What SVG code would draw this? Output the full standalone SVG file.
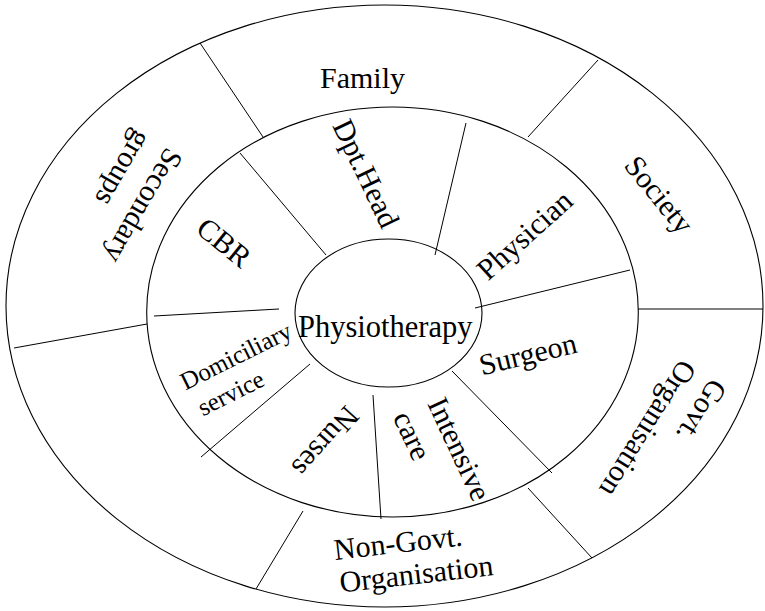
<svg xmlns="http://www.w3.org/2000/svg" width="765" height="611" viewBox="0 0 765 611">
<style>
  .ring { fill: none; stroke: #000; stroke-width: 1.1; }
  .div { stroke: #000; stroke-width: 1; fill: none; }
  .lbl { font-family: "Liberation Serif", "Times New Roman", serif; font-size: 30px; fill: #000; }
  .sm { font-size: 25px; }
</style>
<rect x="0" y="0" width="765" height="611" fill="#fff"/>
<g id="ring-outer"><ellipse class="ring" cx="384.5" cy="306" rx="378.5" ry="301"/></g>
<g id="ring-middle"><ellipse class="ring" cx="392.5" cy="312" rx="245.8" ry="205"/></g>
<g id="connectors">
  <line class="div" x1="200" y1="43" x2="263" y2="137"/>
  <line class="div" x1="598" y1="60" x2="528" y2="137"/>
  <line class="div" x1="638" y1="309" x2="763" y2="309"/>
  <line class="div" x1="528" y1="488" x2="592" y2="558"/>
  <line class="div" x1="303" y1="511" x2="256" y2="589"/>
  <line class="div" x1="14" y1="348" x2="147" y2="324"/>
  <line class="div" x1="240" y1="153" x2="326" y2="255"/>
  <line class="div" x1="466" y1="123" x2="435" y2="255"/>
  <line class="div" x1="475" y1="308" x2="630" y2="270"/>
  <line class="div" x1="452" y1="371" x2="552" y2="473"/>
  <line class="div" x1="373" y1="395" x2="381" y2="519"/>
  <line class="div" x1="310" y1="364" x2="201" y2="457"/>
  <line class="div" x1="154" y1="316" x2="279" y2="309"/>
</g>
<g id="node-physiotherapy">
  <ellipse class="ring" cx="388.5" cy="313" rx="93.5" ry="74"/>
  <text class="lbl" x="298" y="337" style="font-size:30.5px">Physiotherapy</text>
</g>
<g id="node-family"><text class="lbl" x="320" y="88">Family</text></g>
<g id="node-society"><text class="lbl" transform="translate(623,166) rotate(51)">Society</text></g>
<g id="node-govt"><text class="lbl" transform="translate(711,377) rotate(122)"><tspan x="0" y="0">Govt.</tspan><tspan x="0" dy="36">Organisation</tspan></text></g>
<g id="node-nongovt"><text class="lbl" transform="translate(335,560) rotate(-6.5)"><tspan x="0" y="0">Non-Govt.</tspan><tspan x="2" dy="33">Organisation</tspan></text></g>
<g id="node-secondary"><text class="lbl" transform="translate(166.5,146) rotate(120)"><tspan x="0" y="0">Secondary</tspan><tspan x="0" dy="36">groups</tspan></text></g>
<g id="node-dpthead"><text class="lbl" transform="translate(332,125.5) rotate(64.4)">Dpt.Head</text></g>
<g id="node-physician"><text class="lbl" transform="translate(488,281.5) rotate(-42)">Physician</text></g>
<g id="node-surgeon"><text class="lbl" transform="translate(482,375.5) rotate(-13.6)">Surgeon</text></g>
<g id="node-intensive"><text class="lbl" transform="translate(427,403.5) rotate(65)"><tspan x="0" y="0">Intensive</tspan><tspan x="-2" dy="37">care</tspan></text></g>
<g id="node-nurses"><text class="lbl" transform="translate(346,404) rotate(132)">Nurses</text></g>
<g id="node-domiciliary"><text class="lbl sm" transform="translate(185.5,390.5) rotate(-26.5)"><tspan x="0" y="0">Domiciliary</tspan><tspan x="4" dy="31">service</tspan></text></g>
<g id="node-cbr"><text class="lbl" transform="translate(194.5,231.5) rotate(39)">CBR</text></g>
</svg>
